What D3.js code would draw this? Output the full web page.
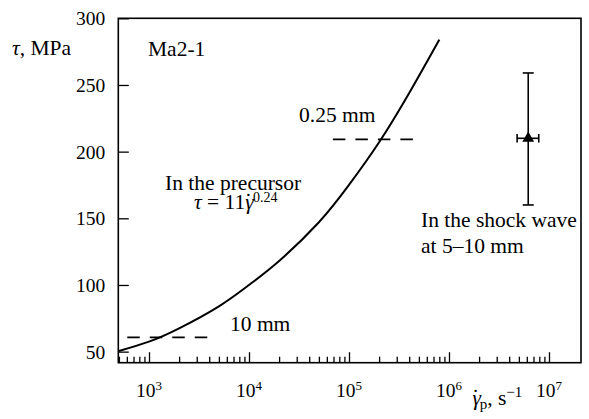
<!DOCTYPE html>
<html><head><meta charset="utf-8">
<script src="https://cdn.jsdelivr.net/npm/d3@7"></script>
<style>
html,body{margin:0;padding:0;background:#fff;}
svg{display:block;}
</style></head>
<body>
<script>
// ---- data ----
const curveRate   = [500, 1000, 2000, 5000, 1e4, 2e4, 5e4, 1e5, 2e5, 4e5, 8e5];
const curveStress = [50.5, 57.5, 67.5, 84, 100, 118, 147, 175, 207, 244, 284];

const dash10Rate = [606, 3980];
const dash10Stress = 60.7;
const dash025Rate = [6.9e4, 4.37e5];
const dash025Stress = 209.2;

const shockRate = [6.2e6];
const shockStress = [210];
const shockStressRange = [160, 259];
const shockRateRange = [4.8e6, 7.9e6];

const yTicks = [50, 100, 150, 200, 250, 300];
const xTickExps = [3, 4, 5, 6, 7];

const FONT = "'Liberation Serif', 'DejaVu Serif Condensed', 'DejaVu Serif', serif";
const TXT = 21.5, TICK = 19.5;

// ---- layout ----
const W = 589, H = 419;
const mLeft = 118.3, mRight = 581, mTop = 18.3, mBottom = 362.7;

const svg = d3.select("body").append("svg").attr("width", W).attr("height", H)
  .style("font-family", FONT).style("font-stretch", "condensed");

const x = d3.scaleLog().domain([493, 2.09e7]).range([mLeft, mRight]);
const y = d3.scaleLinear().domain([41.7, 300]).range([mBottom, mTop]);

const minor = [];
for (let e = 2; e <= 6; e++) for (let m = 2; m <= 9; m++) {
  const v = m * Math.pow(10, e);
  if (v > 493 && v < 2.09e7) minor.push(v);
}
const gMinor = svg.append("g").attr("transform", `translate(0,${mBottom})`)
  .call(d3.axisBottom(x).tickValues(minor).tickSize(-6).tickFormat(""));
const gMajor = svg.append("g").attr("transform", `translate(0,${mBottom})`)
  .call(d3.axisBottom(x).tickValues(xTickExps.map(e => Math.pow(10, e))).tickSize(-10.5).tickFormat(""));
[gMinor, gMajor].forEach(g => {
  g.select(".domain").remove();
  g.selectAll(".tick line").attr("stroke", "#000").attr("stroke-width", 1.3);
});

const gy = svg.append("g").attr("transform", `translate(${mLeft},0)`)
  .call(d3.axisLeft(y).tickValues(yTicks).tickSize(-10.5).tickPadding(13).tickFormat(d3.format("d")));
gy.attr("font-family", null).attr("font-size", null);
gy.select(".domain").remove();
gy.selectAll(".tick line").attr("stroke", "#000").attr("stroke-width", 1.3);
gy.selectAll(".tick text").attr("font-size", TICK).attr("fill", "#000").attr("dy", "0.34em");

svg.append("rect").attr("x", mLeft).attr("y", mTop).attr("width", mRight - mLeft).attr("height", mBottom - mTop)
  .attr("fill", "none").attr("stroke", "#000").attr("stroke-width", 1.6);

xTickExps.forEach(e => {
  const t = svg.append("text").attr("x", x(Math.pow(10, e))).attr("y", 396.5)
    .attr("text-anchor", "middle").attr("font-size", TICK);
  t.append("tspan").text("10");
  t.append("tspan").attr("font-size", 13).attr("dy", -7).text(String(e));
});

// gamma with dot above
function gammaDot(t, size) {
  t.append("tspan").attr("font-style", "italic").text("γ");
  t.append("tspan").attr("dx", -0.42 * size).attr("dy", -0.05 * size).text("˙");
  return 0.05 * size;
}

const xl = svg.append("text").attr("x", 472).attr("y", 405).attr("font-size", 21.5);
let back = gammaDot(xl, 21.5);
xl.append("tspan").attr("font-size", 15).attr("dx", 0.5).attr("dy", back + 4).text("p");
xl.append("tspan").attr("dy", -4).text(", s");
xl.append("tspan").attr("font-size", 15).attr("dy", -8).text("−1");

const yl = svg.append("text").attr("x", 12).attr("y", 55).attr("font-size", TXT);
yl.append("tspan").attr("font-style", "italic").text("τ");
yl.append("tspan").text(", MPa");

const pts = curveRate.map((r, i) => [r, curveStress[i]]);
svg.append("path").datum(pts)
  .attr("d", d3.line().x(d => x(d[0])).y(d => y(d[1])).curve(d3.curveNatural))
  .attr("fill", "none").attr("stroke", "#000").attr("stroke-width", 2);

[[dash10Rate, dash10Stress], [dash025Rate, dash025Stress]].forEach(([rr, s]) => {
  svg.append("line").attr("x1", x(rr[0])).attr("x2", x(rr[1])).attr("y1", y(s)).attr("y2", y(s))
    .attr("stroke", "#000").attr("stroke-width", 1.8).attr("stroke-dasharray", "12.5,10");
});

const sx = x(shockRate[0]), sy = y(shockStress[0]);
const eb = svg.append("g").attr("stroke", "#000").attr("stroke-width", 1.6);
eb.append("line").attr("x1", sx).attr("x2", sx).attr("y1", y(shockStressRange[0])).attr("y2", y(shockStressRange[1]));
shockStressRange.forEach(v => eb.append("line").attr("x1", sx - 5.5).attr("x2", sx + 5.5).attr("y1", y(v)).attr("y2", y(v)));
eb.append("line").attr("x1", x(shockRateRange[0])).attr("x2", x(shockRateRange[1])).attr("y1", sy).attr("y2", sy);
shockRateRange.forEach(v => eb.append("line").attr("x1", x(v)).attr("x2", x(v)).attr("y1", sy - 4.3).attr("y2", sy + 4.3));
svg.append("path").attr("d", d3.symbol().type(d3.symbolTriangle).size(60)())
  .attr("transform", `translate(${sx},${sy})`).attr("fill", "#000");

function label(xp, yp, s) {
  return svg.append("text").attr("x", xp).attr("y", yp).attr("font-size", TXT).text(s);
}
label(148, 56, "Ma2-1");
label(299, 122, "0.25 mm");
label(230, 331, "10 mm");
label(165, 190, "In the precursor");
const eq = svg.append("text").attr("x", 194).attr("y", 209).attr("font-size", TXT);
eq.append("tspan").attr("font-style", "italic").text("τ");
eq.append("tspan").text(" = 11");
back = gammaDot(eq, TXT);
eq.append("tspan").attr("font-size", 14).attr("dx", 1).attr("dy", back - 7).text("0.24");
label(421, 227, "In the shock wave");
label(421, 253, "at 5–10 mm");
</script>
</body></html>
